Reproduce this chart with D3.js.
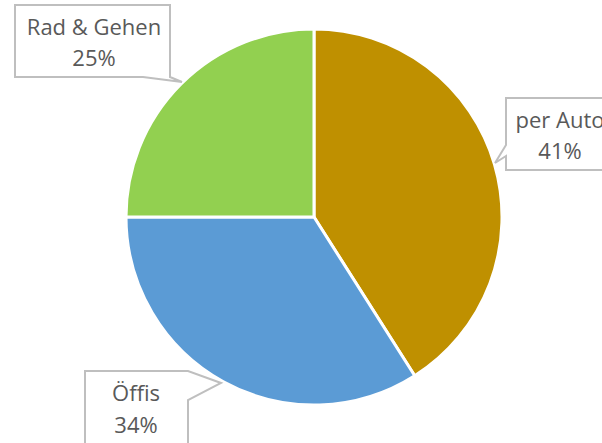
<!DOCTYPE html>
<html>
<head>
<meta charset="utf-8">
<script src="https://cdn.jsdelivr.net/npm/d3@7"></script>
<style>
  body { margin: 0; background: #fff; }
  svg { display: block; }
</style>
</head>
<body>
<svg width="602" height="443"></svg>
<script>
// data
var categories = ['per Auto', 'Öffis', 'Rad & Gehen'];
var shares = [41, 34, 25];
var colors = ['#BF9000', '#5B9BD5', '#92D050'];

var svg = d3.select('svg');

var cx = 314, cy = 217, radius = 188;

var pie = d3.pie().sort(null).value(function (d) { return d; });
var arc = d3.arc().innerRadius(0).outerRadius(radius);

var chartG = svg.append('g')
    .attr('transform', `translate(${cx}, ${cy})`);

chartG.selectAll('.slice')
    .data(pie(shares))
    .enter()
    .append('path')
    .attr('class', 'slice')
    .attr('d', arc)
    .attr('fill', function (d, i) { return colors[i]; })
    .attr('stroke', '#fff')
    .attr('stroke-width', 3)
    .attr('stroke-linejoin', 'round');

// callout boxes (layout only, in page coordinates)
var callouts = [
    { path: 'M506,98 H622 V170 H506 V156 L495,163 L506,145 Z', tx: 560, ty: [128, 159] },
    { path: 'M85,371 H188 L221,383 L188,400 V452 H85 Z', tx: 136, ty: [401, 433] },
    { path: 'M15,5 H170 V77 L182,82 L143,77 H15 Z', tx: 94, ty: [35, 66] }
];

var labelG = svg.selectAll('.callout')
    .data(callouts)
    .enter()
    .append('g')
    .attr('class', 'callout');

labelG.append('path')
    .attr('d', function (d) { return d.path; })
    .attr('fill', '#fff')
    .attr('stroke', '#BFBFBF')
    .attr('stroke-width', 2)
    .attr('stroke-linejoin', 'miter');

labelG.each(function (d, i) {
    var g = d3.select(this);
    var lines = [categories[i], shares[i] + '%'];
    lines.forEach(function (t, j) {
        g.append('text')
            .attr('x', d.tx)
            .attr('y', d.ty[j])
            .attr('text-anchor', 'middle')
            .style('font-family', '"Open Sans", sans-serif')
            .style('font-size', '22px')
            .style('fill', '#595959')
            .text(t);
    });
});
</script>
</body>
</html>
